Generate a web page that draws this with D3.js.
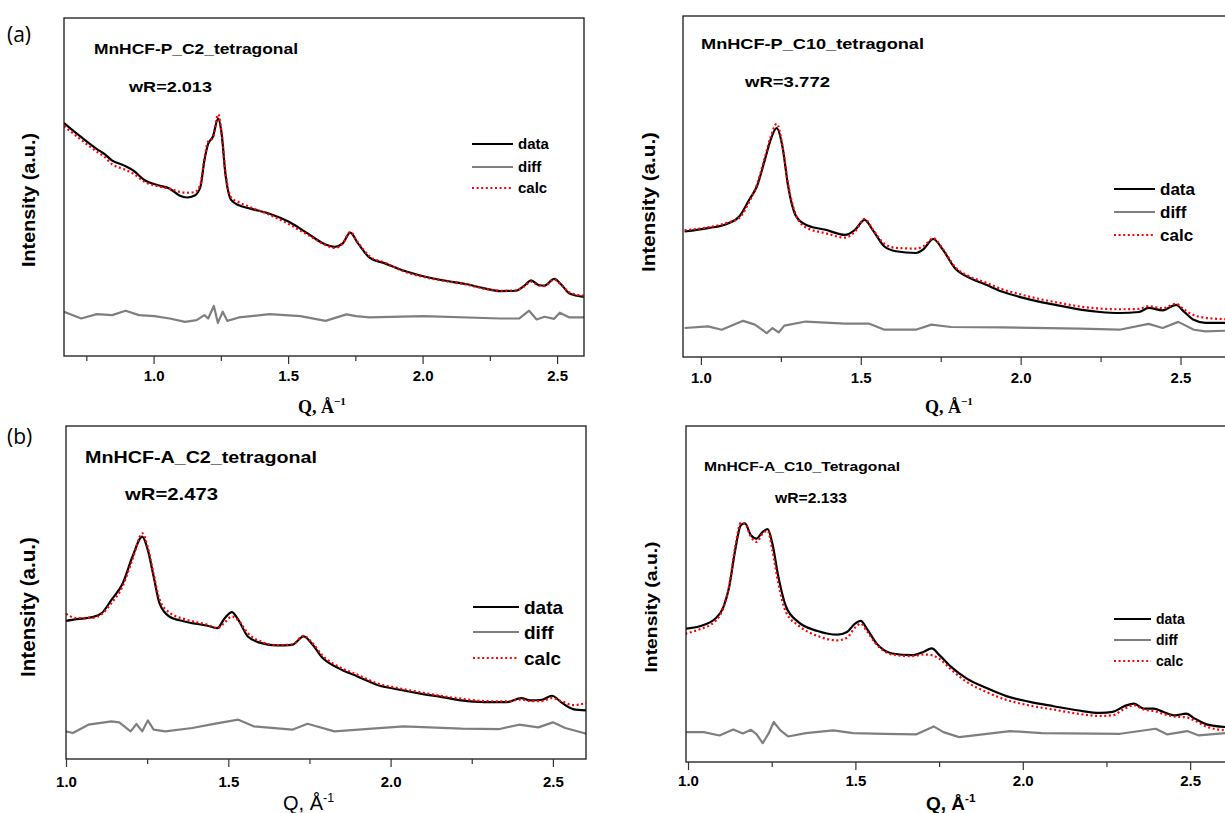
<!DOCTYPE html>
<html lang="en">
<head>
    <meta charset="UTF-8">
    <title>MnHCF tetragonal refinements</title>
    <script src="https://cdn.jsdelivr.net/npm/d3@7"></script>
    <style>
        body{ margin:0; background:#fff; }
        .frame{ fill:none; stroke:#1a1a1a; stroke-width:1.3; }
        .tick line{ stroke:#333; stroke-width:1.2; }
        text{ font-family:"Liberation Sans", Arial, sans-serif; fill:#000; }
    </style>
</head>
<body>
<svg id="fig" width="1225" height="813"></svg>
<script>
    // ---- data (intensity in arbitrary units, 0-100 of frame height) ----
    let a1_q    = [0.667,0.73,0.788,0.817,0.845,0.889,0.924,0.967,1.017,1.06,1.096,1.124,1.153,1.174,1.189,1.203,1.22,1.24,1.253,1.267,1.289,1.317,1.36,1.431,1.503,1.574,1.631,1.674,1.703,1.731,1.76,1.803,1.86,1.931,2.003,2.074,2.16,2.231,2.289,2.346,2.381,2.403,2.431,2.453,2.489,2.517,2.546,2.6]
    let a1_data = [68.9,64.8,61.3,59.8,57.9,56.4,54.9,52.0,50.5,49.5,47.5,46.9,47.5,50.0,57.9,62.8,64.8,70.2,65.7,53.9,46.1,44.6,43.6,42.1,39.7,36.2,33.3,32.3,33.3,36.5,33.3,29.1,27.4,25.2,23.6,22.4,21.3,20.0,19.2,19.3,21.0,22.4,21.0,20.8,22.8,21.0,18.5,17.5]
    let a1_calc = [68.0,64.0,60.5,59.0,56.8,55.3,54.0,51.5,50.2,49.5,48.6,48.3,48.5,50.8,58.5,63.5,64.5,71.5,66.0,54.5,46.8,45.5,44.0,41.8,39.0,35.8,33.2,32.0,33.2,36.7,33.5,29.5,27.6,25.0,23.4,22.3,21.2,19.9,19.3,19.4,20.8,22.0,20.9,20.7,22.6,20.9,18.8,17.8]
    let a1_diffQ = [0.667,0.731,0.789,0.846,0.896,0.946,1.003,1.06,1.117,1.16,1.189,1.203,1.224,1.239,1.257,1.274,1.317,1.431,1.546,1.639,1.717,1.753,1.803,2.003,2.289,2.36,2.396,2.424,2.453,2.489,2.51,2.546,2.6]
    let a1_diff  = [13.1,11.1,12.4,12.1,13.4,12.1,11.8,11.1,10.1,10.6,12.1,11.1,14.8,9.8,13.1,10.4,11.4,12.4,11.8,10.4,12.3,11.8,11.4,11.8,11.1,11.1,13.4,10.8,11.6,11.0,12.8,11.4,11.4]

    let a2_q    = [0.949,1.022,1.083,1.12,1.151,1.175,1.2,1.218,1.237,1.255,1.273,1.298,1.328,1.39,1.451,1.482,1.512,1.537,1.574,1.61,1.672,1.696,1.727,1.757,1.794,1.843,1.892,1.941,2.002,2.064,2.125,2.186,2.248,2.309,2.37,2.4,2.444,2.486,2.51,2.541,2.578,2.637,2.661]
    let a2_data = [36.8,37.8,39.1,41.2,46.1,50.0,57.8,63.7,67.1,61.7,50.0,41.2,38.8,37.3,35.8,37.3,40.2,37.3,32.4,31.0,30.5,31.6,34.6,31.4,26.1,23.1,21.2,19.2,17.5,16.1,15.0,13.9,13.2,12.9,13.2,14.4,13.7,15.3,13.4,10.9,10.0,10.0,10.0]
    let a2_calc = [37.2,38.0,39.4,40.8,45.5,50.5,58.5,64.5,68.4,62.0,50.5,41.5,38.0,36.3,35.0,36.8,40.5,37.5,33.2,32.0,31.8,32.5,34.8,31.6,26.5,23.5,21.8,19.9,18.3,16.9,15.8,14.8,14.2,14.0,14.1,14.9,14.3,15.6,14.0,12.3,11.5,11.1,11.0]
    let a2_diffQ = [0.949,1.022,1.065,1.132,1.169,1.206,1.224,1.243,1.261,1.328,1.451,1.525,1.574,1.672,1.721,1.782,1.941,2.186,2.309,2.4,2.444,2.493,2.542,2.578,2.637,2.661]
    let a2_diff  = [8.5,9.0,8.0,10.6,9.5,7.0,8.5,7.2,9.2,10.4,9.8,9.8,8.0,8.0,9.5,8.8,8.7,8.3,8.0,9.7,8.5,10.3,8.0,7.5,7.7,7.7]

    let b1_q    = [1.0,1.033,1.081,1.11,1.14,1.175,1.205,1.235,1.252,1.27,1.288,1.318,1.365,1.436,1.466,1.489,1.511,1.531,1.56,1.602,1.649,1.697,1.732,1.756,1.791,1.839,1.898,1.957,2.028,2.1,2.159,2.218,2.289,2.36,2.402,2.431,2.467,2.497,2.526,2.562,2.603]
    let b1_data = [41.5,42.0,42.6,43.8,47.8,52.8,60.8,66.8,62.8,54.8,46.8,42.8,41.3,40.0,39.3,42.3,44.1,41.8,36.8,34.8,34.1,34.3,36.8,34.8,30.3,27.3,24.8,22.3,20.8,19.5,18.6,17.6,17.1,17.1,18.3,17.6,17.8,19.0,17.0,15.0,14.6]
    let b1_calc = [43.6,42.3,42.4,43.5,46.8,52.0,60.0,67.8,63.5,55.5,48.0,44.0,42.0,40.3,39.3,41.0,42.8,41.6,37.8,35.2,34.2,34.4,37.0,35.2,31.0,27.8,25.3,22.8,21.2,19.9,18.9,18.1,17.4,17.3,17.9,17.4,17.4,18.3,17.4,16.2,16.8]
    let b1_diffQ = [1.0,1.021,1.069,1.14,1.164,1.199,1.217,1.235,1.252,1.27,1.306,1.389,1.46,1.531,1.578,1.697,1.744,1.827,1.922,2.04,2.218,2.336,2.396,2.455,2.5,2.538,2.603]
    let b1_diff  = [8.3,7.8,10.3,11.3,11.0,8.3,10.5,8.3,11.6,8.8,8.3,9.3,10.6,11.8,9.8,8.8,10.6,8.3,9.0,9.8,9.1,9.0,10.3,9.5,11.0,9.3,7.6]

    let b2_q    = [0.992,1.035,1.082,1.106,1.123,1.141,1.158,1.17,1.188,1.205,1.223,1.238,1.252,1.27,1.293,1.329,1.387,1.446,1.475,1.499,1.516,1.534,1.563,1.61,1.669,1.704,1.728,1.751,1.786,1.833,1.892,1.951,2.021,2.092,2.162,2.232,2.268,2.303,2.332,2.362,2.391,2.42,2.455,2.488,2.514,2.549,2.606,2.625]
    let b2_data = [39.7,40.4,42.7,46.2,52.1,63.1,70.5,71.0,67.5,66.5,68.5,69.3,65.0,55.1,46.2,41.7,39.0,37.9,38.7,41.2,42.0,39.7,35.3,32.3,31.8,32.8,33.8,31.8,28.3,24.8,22.0,19.6,17.9,16.6,15.4,14.6,14.9,16.6,17.4,15.9,15.9,14.9,13.9,14.4,12.9,11.2,10.4,10.3]
    let b2_calc = [38.2,39.5,42.0,46.0,52.5,64.0,71.2,71.0,67.0,65.5,68.0,68.8,63.0,53.0,44.5,40.7,37.5,36.2,37.0,40.0,41.2,39.0,35.0,32.0,31.5,32.0,31.8,30.7,27.5,23.8,20.8,18.5,16.8,15.6,14.4,13.7,13.9,15.8,16.9,15.6,15.2,14.3,13.5,13.3,12.3,10.5,9.4,9.2]
    let b2_diffQ = [0.992,1.047,1.094,1.135,1.164,1.188,1.205,1.223,1.241,1.256,1.276,1.299,1.352,1.434,1.493,1.587,1.681,1.734,1.763,1.81,1.88,1.962,2.056,2.291,2.397,2.432,2.491,2.526,2.606,2.625]
    let b2_diff  = [8.9,8.9,7.9,9.7,8.5,9.6,8.2,5.6,8.5,11.9,9.4,7.6,8.6,9.4,8.6,8.4,8.2,10.6,8.9,7.4,8.2,9.2,8.6,8.4,9.9,8.2,9.2,7.9,8.6,8.6]

    let majorTicks = [1.0, 1.5, 2.0, 2.5]
    let minorTicks = [0.75, 1.25, 1.75, 2.25]
    let legendNames = ["data", "diff", "calc"]
    let titles = ["MnHCF-P_C2_tetragonal", "MnHCF-P_C10_tetragonal", "MnHCF-A_C2_tetragonal", "MnHCF-A_C10_Tetragonal"]
    let wRs = ["wR=2.013", "wR=3.772", "wR=2.473", "wR=2.133"]

    let svg = d3.select("#fig")

    // layout of the four panels (pixel positions)
    let panels = [
        {id:"a1", q:a1_q, data:a1_data, calc:a1_calc, dq:a1_diffQ, diff:a1_diff,
         left:64, right:584, top:18, bottom:356, x0:0.667, x1:2.6,
         title:{x:94, y:54, size:14, len:204}, wr:{x:129, y:92, size:15, len:83},
         ylab:{x:35, y:200, size:18, len:134}, leg:{x:472, w:41, y:[144,167,188], size:15},
         tickY:25, tickSize:15, qlab:{x:298, y:413, serif:true, size:18, len:50}},
        {id:"a2", q:a2_q, data:a2_data, calc:a2_calc, dq:a2_diffQ, diff:a2_diff,
         left:683, right:1232, top:16, bottom:357, x0:0.944, x1:2.661,
         title:{x:701, y:49, size:14, len:223}, wr:{x:745, y:87, size:15, len:85},
         ylab:{x:655, y:202, size:18, len:140}, leg:{x:1114, w:41, y:[189,212,235], size:17},
         tickY:26, tickSize:15, qlab:{x:925, y:413, serif:true, size:18, len:44}},
        {id:"b1", q:b1_q, data:b1_data, calc:b1_calc, dq:b1_diffQ, diff:b1_diff,
         left:66, right:586, top:426, bottom:759, x0:1.0, x1:2.602,
         title:{x:85, y:463, size:17, len:232}, wr:{x:125, y:500, size:17, len:93},
         ylab:{x:35, y:607, size:20, len:140}, leg:{x:473, w:46, y:[607,632,658], size:19},
         tickY:28, tickSize:15, qlab:{x:283, y:810, serif:false, size:20, len:42}},
        {id:"b2", q:b2_q, data:b2_data, calc:b2_calc, dq:b2_diffQ, diff:b2_diff,
         left:686, right:1232, top:426, bottom:762, x0:0.994, x1:2.625,
         title:{x:704, y:471, size:13, len:196}, wr:{x:775, y:503, size:14, len:72},
         ylab:{x:657, y:607, size:17, len:131}, leg:{x:1114, w:37, y:[619,640,661], size:14},
         tickY:24, tickSize:15, qlab:{x:926, y:810, serif:false, bold:true, size:19, len:40}}
    ]

    let styles = {
        data: {stroke:"#000", width:2.2, dash:null},
        diff: {stroke:"#7f7f7f", width:2.2, dash:null},
        calc: {stroke:"#ff0000", width:2.2, dash:"2,2.6"}
    }

    function drawPanel(p, i) {
        let x = d3.scaleLinear().domain([p.x0, p.x1]).range([p.left, p.right])
        let y = d3.scaleLinear().domain([0, 100]).range([p.bottom, p.top])
        let g = svg.append("g").attr("id", p.id)

        g.append("clipPath").attr("id", "clip_" + p.id)
            .append("rect").attr("x", p.left).attr("y", p.top)
            .attr("width", p.right - p.left).attr("height", p.bottom - p.top)

        let plot = g.append("g").attr("clip-path", `url(#clip_${p.id})`)
        let smooth = d3.line().x(d => x(d[0])).y(d => y(d[1])).curve(d3.curveMonotoneX)
        let rough = d3.line().x(d => x(d[0])).y(d => y(d[1]))

        let series = [
            ["data", smooth(d3.zip(p.q, p.data))],
            ["diff", rough(d3.zip(p.dq, p.diff))],
            ["calc", smooth(d3.zip(p.q, p.calc))]
        ]
        series.forEach(function (s) {
            let st = styles[s[0]]
            plot.append("path").attr("d", s[1]).attr("fill", "none")
                .attr("stroke", st.stroke).attr("stroke-width", st.width)
                .attr("stroke-dasharray", st.dash)
                .attr("stroke-linejoin", "round")
        })

        g.append("rect").attr("class", "frame")
            .attr("x", p.left).attr("y", p.top)
            .attr("width", p.right - p.left).attr("height", p.bottom - p.top)

        // axes
        let minor = g.append("g").attr("transform", `translate(0,${p.bottom})`)
            .call(d3.axisBottom(x).tickValues(minorTicks.filter(v => v > p.x0 && v < p.x1))
                .tickSize(5).tickFormat(""))
        minor.select(".domain").remove()

        let major = g.append("g").attr("transform", `translate(0,${p.bottom})`)
            .call(d3.axisBottom(x).tickValues(majorTicks).tickSize(8).tickFormat(d3.format(".1f")))
        major.select(".domain").remove()
        major.selectAll("text").attr("y", p.tickY).attr("dy", null)
            .style("font-family", '"Liberation Sans", Arial, sans-serif')
            .style("font-size", p.tickSize + "px").style("font-weight", "bold")
            .attr("fill", "#111")

        // title and wR
        g.append("text").attr("x", p.title.x).attr("y", p.title.y)
            .attr("font-size", p.title.size).attr("font-weight", "bold")
            .attr("textLength", p.title.len).attr("lengthAdjust", "spacingAndGlyphs")
            .text(titles[i])
        g.append("text").attr("x", p.wr.x).attr("y", p.wr.y)
            .attr("font-size", p.wr.size).attr("font-weight", "bold")
            .attr("textLength", p.wr.len).attr("lengthAdjust", "spacingAndGlyphs")
            .text(wRs[i])

        // y label
        g.append("text")
            .attr("transform", `translate(${p.ylab.x},${p.ylab.y}) rotate(-90)`)
            .attr("text-anchor", "middle").attr("font-size", p.ylab.size)
            .attr("font-weight", "bold")
            .attr("textLength", p.ylab.len).attr("lengthAdjust", "spacingAndGlyphs")
            .text("Intensity (a.u.)")

        // x label
        let ql = g.append("text").attr("x", p.qlab.x).attr("y", p.qlab.y)
            .attr("font-size", p.qlab.size)
            .attr("font-weight", (p.qlab.serif || p.qlab.bold) ? "bold" : "normal")
            .style("font-family", p.qlab.serif ? '"Liberation Serif", "Times New Roman", serif' : '"Liberation Sans", Arial, sans-serif')
        ql.append("tspan").text("Q, Å")
        ql.append("tspan").attr("dy", -p.qlab.size * 0.42).attr("font-size", p.qlab.size * 0.62)
            .text(p.qlab.serif ? "\u22121" : "-1")

        // legend
        legendNames.forEach(function (name, k) {
            let st = styles[name]
            let ly = p.leg.y[k]
            g.append("line").attr("x1", p.leg.x).attr("x2", p.leg.x + p.leg.w)
                .attr("y1", ly).attr("y2", ly)
                .attr("stroke", st.stroke).attr("stroke-width", st.width)
                .attr("stroke-dasharray", st.dash)
            g.append("text").attr("x", p.leg.x + p.leg.w + 5).attr("y", ly + p.leg.size * 0.36)
                .attr("font-size", p.leg.size).attr("font-weight", "bold")
                .text(name)
        })
    }

    panels.forEach(drawPanel)

    // panel letters
    svg.append("text").attr("x", 7).attr("y", 42).attr("font-size", 21)
        .style("font-family", '"Open Sans", "Noto Sans", sans-serif').text("(a)")
    svg.append("text").attr("x", 7).attr("y", 444).attr("font-size", 21)
        .style("font-family", '"Open Sans", "Noto Sans", sans-serif').text("(b)")
</script>
</body>
</html>
